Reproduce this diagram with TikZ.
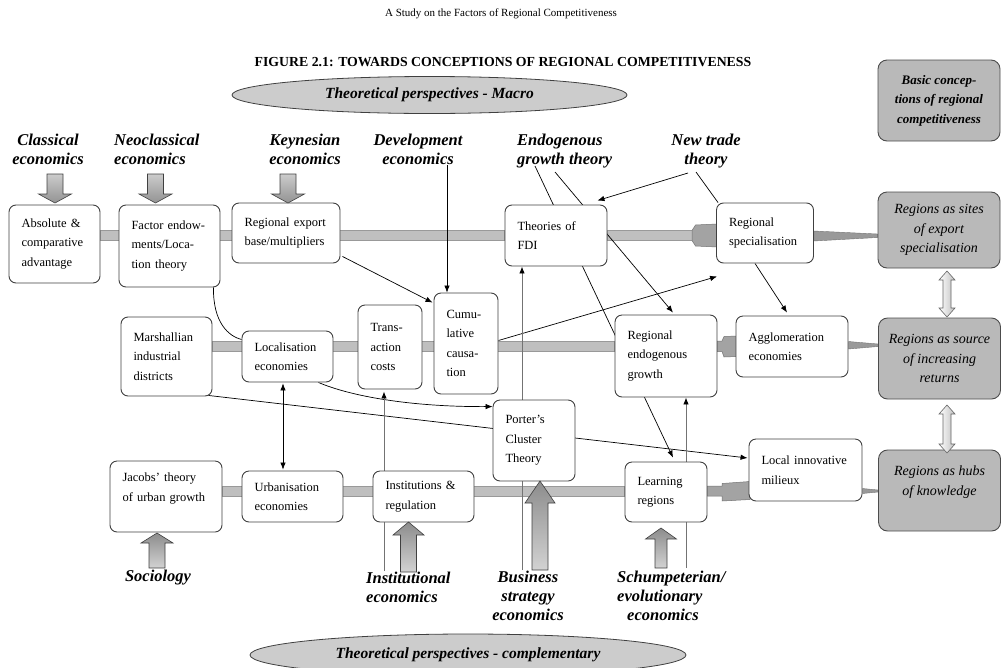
\documentclass[tikz,border=0pt]{standalone}
\usepackage{fontspec}
\setmainfont{Liberation Serif}
\usetikzlibrary{arrows.meta,calc,shapes.geometric}
\pgfdeclarelayer{bars}
\pgfdeclarelayer{lines}
\pgfsetlayers{bars,lines,main}
\begin{document}
\begin{tikzpicture}[x=1pt,y=-1pt,
  box/.style={draw=black!75,line width=0.9pt,rounded corners=7pt,fill=white,inner xsep=12.5pt,inner ysep=0pt,align=left,font=\fontsize{12.5}{19.5}\selectfont},
  gbox/.style={draw=black!70,line width=0.9pt,rounded corners=9pt,fill=gray!55,inner sep=0pt,align=center,minimum width=122pt,minimum height=81pt,font=\fontsize{14}{19.5}\selectfont\itshape},
  lab/.style={align=center,inner sep=0pt,font=\fontsize{16.5}{19}\selectfont\bfseries\itshape},
  ell/.style={ellipse,draw=black!75,line width=0.8pt,fill=gray!40,inner sep=0pt,font=\fontsize{15.5}{18}\selectfont\bfseries\itshape},
  bar/.style={fill=gray!50,draw=gray!80,line width=0.5pt},
  blk/.style={fill=gray!72,draw=gray!90!black,line width=0.5pt},
  wdg/.style={fill=gray!80,draw=gray!90!black,line width=0.4pt},
  ln/.style={draw=black,line width=0.7pt},
  arr/.style={ln,-{Latex[length=7pt,width=5.5pt]}},
  arrtwo/.style={ln,{Latex[length=7pt,width=5.5pt]}-{Latex[length=7pt,width=5.5pt]}},
  garr/.style={draw=black!55,line width=0.9pt,-{Latex[length=7pt,width=5.5pt,color=black]}},
  dblk/.style={draw=black!75,line width=0.6pt,top color=gray!40,bottom color=gray!85},
  ublk/.style={draw=black!75,line width=0.6pt,top color=gray!90,bottom color=gray!35},
  dbl/.style={draw=black!60,line width=0.6pt,left color=white,right color=gray!50}
]
\useasboundingbox (0,0) rectangle (1001,667);
\clip (0,0) rectangle (1001,667);

% header and title
\node[font=\fontsize{11}{13}\selectfont] (hdr) at (501,14) {A Study on the Factors of Regional Competitiveness};
\node[font=\fontsize{13.8}{16}\selectfont\bfseries] (ttl) at (503,62) {FIGURE 2.1: TOWARDS CONCEPTIONS OF REGIONAL COMPETITIVENESS};
\node[ell,minimum width=395pt,minimum height=37pt] (macro) at (429.5,95) {Theoretical perspectives - Macro};
\node[ell,minimum width=436pt,minimum height=42pt] (comp) at (468,655) {Theoretical perspectives - complementary};

% row 1 boxes
\node[box,minimum width=91pt,minimum height=78pt,text width=66pt] (abs) at (54.5,244) {Absolute \&\\comparative\\advantage};
\node[box,minimum width=101pt,minimum height=82pt,text width=76pt] (fac) at (169.5,246) {Factor~endow-\\ments/Loca-\\tion~theory};
\node[box,minimum width=108pt,minimum height=60pt,text width=83pt] (reg) at (286,233) {Regional~export\\base/multipliers};
\node[box,minimum width=102pt,minimum height=61pt,text width=77pt] (fdi) at (556,235.5) {Theories~of\\FDI};
\node[box,minimum width=97pt,minimum height=60pt,text width=72pt] (spec) at (765,233) {Regional\\specialisation};

% row 2 boxes
\node[box,minimum width=91pt,minimum height=79pt,text width=66pt] (marsh) at (166.5,356.5) {Marshallian\\industrial\\districts};
\node[box,minimum width=91pt,minimum height=51pt,text width=66pt] (loc) at (287.5,356.5) {Localisation\\economies};
\node[box,minimum width=64pt,minimum height=84pt,text width=39pt] (trans) at (390,347) {Trans-\\action\\costs};
\node[box,minimum width=64pt,minimum height=101pt,text width=39pt] (cum) at (466,343.5) {Cumu-\\lative\\causa-\\tion};
\node[box,minimum width=102pt,minimum height=82pt,text width=77pt] (rend) at (666,356) {Regional\\endogenous\\growth};
\node[box,minimum width=112pt,minimum height=61pt,text width=87pt] (agg) at (792,346.5) {Agglomeration\\economies};

% row 3 boxes
\node[box,minimum width=112pt,minimum height=71pt,text width=87pt] (jac) at (166,496.5) {Jacobs’~theory\\of~urban~growth\\[-1pt]\mbox{}};
\node[box,minimum width=101pt,minimum height=51pt,text width=76pt] (urb) at (292.5,496.5) {Urbanisation\\economies};
\node[box,minimum width=101pt,minimum height=51pt,text width=76pt] (inst) at (423.5,496.5) {Institutions~\&\\regulation};
\node[box,minimum width=82pt,minimum height=81pt,text width=57pt] (porter) at (534,440.5) {Porter’s\\Cluster\\Theory};
\node[box,minimum width=82pt,minimum height=60pt,text width=57pt] (learn) at (666,492) {Learning\\regions};
\node[box,minimum width=113pt,minimum height=62pt,text width=88pt] (mil) at (805.5,470) {Local~innovative\\milieux};

% grey boxes
\node[gbox,font=\fontsize{13}{19.5}\selectfont\bfseries\itshape] (basic) at (939,100.5) {Basic concep-\\tions of regional\\competitiveness};
\node[gbox,minimum height=76pt] (sites) at (939,230) {Regions as sites\\of export\\specialisation};
\node[gbox] (source) at (939.5,358.5) {Regions as source\\of increasing\\returns};
\node[gbox] (hubs) at (939.5,490.5) {Regions as hubs\\of knowledge\\[0pt]\mbox{}};

% discipline labels
\node[lab] (cla) at (48,149.5) {Classical\\economics};
\node[lab,align=left,anchor=west] (neo) at (114,149.5) {Neoclassical\\economics};
\node[lab] (key) at (305,149.5) {Keynesian\\economics};
\node[lab] (dev) at (418,149.5) {Development\\economics};
\node[lab,align=left,anchor=west] (endo) at (517,151.3) {Endogenous\\growth theory};
\node[lab] (ntr) at (706,151.3) {New trade\\theory};
\node[lab] (soc) at (158,578) {Sociology};
\node[lab,align=left,anchor=west] (ins) at (366,587) {Institutional\\economics};
\node[lab] (bus) at (528,595.4) {Business\\strategy\\economics};
\node[lab,align=left,anchor=west] (sch) at (617,595.4) {Schumpeterian/\\evolutionary\\\hspace*{10pt}economics};

% bars
\coordinate (r1t) at (0,230.5); \coordinate (r1b) at (0,240.5);
\coordinate (r2t) at (0,341);   \coordinate (r2b) at (0,351.5);
\coordinate (r3t) at (0,486);   \coordinate (r3b) at (0,496);
\begin{pgfonlayer}{bars}
\path[bar] (abs.east |- r1t) rectangle (fdi.west |- r1b);
\path[bar] (fdi.east |- r1t) rectangle (693,240.5);
\path[blk] (692,230.5) -- (695.5,225) -- (717,224) -- (717,247) -- (695.5,246) -- (692,240.5) -- cycle;
\path[wdg] (spec.east |- 0,231) -- (sites.west |- 0,234) -- (sites.west |- 0,237.5) -- (spec.east |- 0,241) -- cycle;
\path[bar] (marsh.east |- r2t) rectangle (rend.west |- r2b);
\path[blk] (rend.east |- r2t) -- (722,341) -- (724,336.5) -- (737,336) -- (737,356.5) -- (724,357) -- (722,351.5) -- (rend.east |- r2b) -- cycle;
\path[wdg] (agg.east |- 0,341.5) -- (source.west |- 0,344) -- (source.west |- 0,346.5) -- (agg.east |- 0,349) -- cycle;
\path[bar] (jac.east |- r3t) rectangle (learn.west |- r3b);
\path[blk] (learn.east |- r3t) -- (722,486) -- (722,483.5) -- (750,481.5) -- (750,499.5) -- (722,501) -- (722,496) -- (learn.east |- r3b) -- cycle;
\path[wdg] (mil.east |- 0,488.5) -- (hubs.west |- 0,490) -- (hubs.west |- 0,492) -- (mil.east |- 0,493.5) -- cycle;
\end{pgfonlayer}

% connectors
\coordinate (cdev) at (447,0);
\coordinate (eA) at (535,166);
\coordinate (eB) at (555,172);
\coordinate (nA) at (688,173);
\coordinate (nB) at (696,172);
\coordinate (iL) at (384,571);
\coordinate (bL) at (522,570);
\coordinate (sL) at (686,568);
\begin{pgfonlayer}{lines}
\draw[arr] (cdev |- dev.south) -- (cdev |- cum.north);
\draw[arr] ($(reg.south east)+(2,-7)$) -- ($(cum.north west)+(-1,10)$);
\draw[arr] (eA) -- ($(learn.north)+(7,-4)$);
\draw[arr] (eB) -- ($(rend.north)+(7,-2)$);
\draw[arr] (nA) -- ($(fdi.north east)+(-10,-4)$);
\draw[ln] (nB) -- ($(spec.north west)+(2,0)$);
\draw[arr] ($(spec.south)+(-10,0)$) -- ($(agg.north)+(-5,-3)$);
\draw[arr] ($(cum.east)+(0,-3)$) -- ($(spec.south west)+(1,13)$);
\draw[ln] ($(fac.south east)+(-7,0)$) .. controls (213,322) and (228,336) .. ($(loc.north west)+(0,9)$);
\draw[arrtwo] ($(loc.south)+(-4.5,1)$) -- ($(urb.north)+(-9.5,-1)$);
\draw[arr] ($(loc.south east)+(-15,0)$) .. controls (350,396) and (410,407) .. ($(porter.north west)+(0,7)$);
\draw[arr] ($(marsh.south east)+(-4,-1)$) -- ($(mil.west)+(-1,-12)$);
\draw[garr] (iL) -- ($(trans.south)+(-6,2)$);
\draw[garr] (bL) -- ($(fdi.south)+(-34,0)$);
\draw[garr] (sL) -- ($(rend.south)+(20,0)$);
\end{pgfonlayer}

% block arrows from disciplines
\path[dblk] (47,174) -- (63,174) -- (63,194) -- (71.5,194) -- (55,203) -- (38.5,194) -- (47,194) -- cycle;
\path[dblk] (147.5,174) -- (163.5,174) -- (163.5,194) -- (172,194) -- (155.5,203) -- (139,194) -- (147.5,194) -- cycle;
\path[dblk] (280,174) -- (296,174) -- (296,194) -- (304.5,194) -- (288,203) -- (271.5,194) -- (280,194) -- cycle;
\path[ublk] (149,568) -- (165,568) -- (165,543) -- (173,543) -- (157,533) -- (141,543) -- (149,543) -- cycle;
\path[ublk] (400.5,572) -- (416.5,572) -- (416.5,535) -- (424,535) -- (408.5,522) -- (393,535) -- (400.5,535) -- cycle;
\path[ublk] (532,570) -- (548,570) -- (548,503) -- (555,503) -- (540,481) -- (525,503) -- (532,503) -- cycle;
\path[ublk] (655,568) -- (667,568) -- (667,539) -- (676.5,539) -- (661,528) -- (645.5,539) -- (655,539) -- cycle;

% double arrows between conceptions
\path[dbl] (947,271) -- (955,280) -- (951,280) -- (951,308) -- (955,308) -- (947,317) -- (939,308) -- (943,308) -- (943,280) -- (939,280) -- cycle;
\path[dbl] (947,405) -- (955,414) -- (951,414) -- (951,444) -- (955,444) -- (947,453) -- (939,444) -- (943,444) -- (943,414) -- (939,414) -- cycle;
\end{tikzpicture}
\end{document}
